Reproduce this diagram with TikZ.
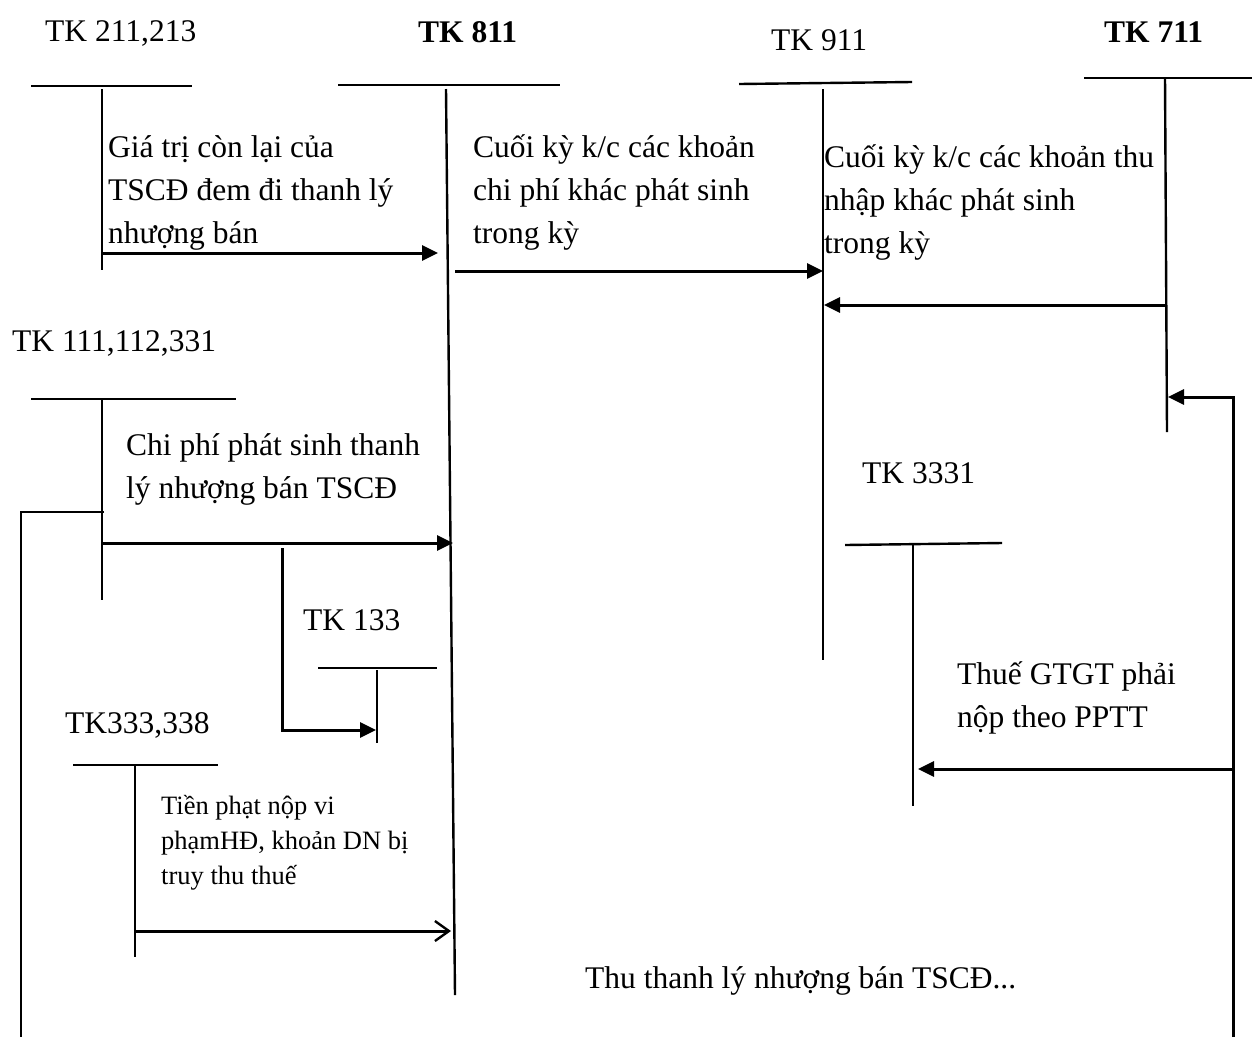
\documentclass[tikz,border=0pt]{standalone}
\usepackage{fontspec}
\setmainfont{Liberation Serif}
\usetikzlibrary{arrows.meta}
% multi-line label whose baseline is that of its first line
\newcommand{\linesof}[1]{\begin{tabular}[t]{@{}l@{}}#1\end{tabular}}
\begin{document}
\begin{tikzpicture}[x=1pt,y=-1pt,
  acct/.style={line width=2.4pt},
  flow/.style={line width=3pt,-{Triangle[length=16pt,width=15pt]}},
  openflow/.style={line width=3pt,-{Straight Barb[length=14pt,width=20pt,line width=2.4pt]}},
  big/.style={inner sep=0pt,anchor=base west,font=\fontsize{31.5}{43}\selectfont},
  bigb/.style={big,font=\fontsize{31.5}{43}\selectfont\bfseries},
  small/.style={inner sep=0pt,anchor=base west,font=\fontsize{26.5}{35}\selectfont}]
\useasboundingbox (0,0) rectangle (1252,1037);

% ---- account titles
\node[big]  (n211)  at (45,41)  {TK 211,213};
\node[bigb] (n811)  at (418,42) {TK 811};
\node[big]  (n911)  at (771,50) {TK 911};
\node[bigb] (n711)  at (1104,42) {TK 711};
\node[big]  (n111)  at (12,351) {TK 111,112,331};
\node[big]  (n133)  at (303,630) {TK 133};
\node[big]  (n333)  at (65,733) {TK333,338};
\node[big]  (n3331) at (862,483) {TK 3331};

% ---- T-account skeletons
\coordinate (h211a) at (31,86);   \coordinate (h211b) at (192,86);
\coordinate (v211a) at (102,89);  \coordinate (v211b) at (102,270);
\coordinate (h811a) at (338,85);  \coordinate (h811b) at (560,85);
\coordinate (v811a) at (446,89);  \coordinate (v811b) at (455,995);
\coordinate (h911a) at (739,84);  \coordinate (h911b) at (912,82);
\coordinate (v911a) at (823,89);  \coordinate (v911b) at (823,660);
\coordinate (h711a) at (1084,78); \coordinate (h711b) at (1252,78);
\coordinate (v711a) at (1165,78); \coordinate (v711b) at (1167,432);
\coordinate (h111a) at (31,399);  \coordinate (h111b) at (236,399);
\coordinate (v111a) at (102,399); \coordinate (v111b) at (102,600);
\coordinate (h133a) at (318,668); \coordinate (h133b) at (437,668);
\coordinate (v133a) at (377,670); \coordinate (v133b) at (377,743);
\coordinate (h333a) at (73,765);  \coordinate (h333b) at (218,765);
\coordinate (v333a) at (135,765); \coordinate (v333b) at (135,957);
\coordinate (h3331a) at (845,545); \coordinate (h3331b) at (1002,543);
\coordinate (v3331a) at (913,544); \coordinate (v3331b) at (913,806);

\foreach \t in {211,811,911,711,111,133,333,3331}{
  \draw[acct] (h\t a) -- (h\t b);
  \draw[acct] (v\t a) -- (v\t b);
}

% ---- flows
\coordinate (a1s) at (102,253);  \coordinate (a1e) at (438,253);
\coordinate (a2s) at (455,271);  \coordinate (a2e) at (823,271);
\coordinate (a3s) at (1165,305); \coordinate (a3e) at (824,305);
\coordinate (a4s) at (102,543);  \coordinate (a4e) at (453,543);
\coordinate (a5s) at (282,548);  \coordinate (a5e) at (376,730);
\coordinate (a6s) at (135,931);  \coordinate (a6e) at (451,931);
\coordinate (a7s) at (1233,769); \coordinate (a7e) at (918,769);
\coordinate (a8s) at (1233,1037); \coordinate (a8e) at (1168,397);
\coordinate (a9s) at (104,512);  \coordinate (a9e) at (21,1037);

\draw[flow] (a1s) -- (a1e);
\draw[flow] (a2s) -- (a2e);
\draw[flow] (a3s) -- (a3e);
\draw[flow] (a4s) -- (a4e);
\draw[flow] (a5s) |- (a5e);
\draw[openflow] (a6s) -- (a6e);
\draw[flow] (a7s) -- (a7e);
\draw[flow] (a8s) |- (a8e);
\draw[acct] (a9s) -| (a9e);

% ---- flow descriptions
\node[big] (d1) at (108,157) {\linesof{Giá trị còn lại của\\TSCĐ đem đi thanh lý\\nhượng bán}};
\node[big] (d2) at (473,157) {\linesof{Cuối kỳ k/c các khoản\\chi phí khác phát sinh\\trong kỳ}};
\node[big] (d3) at (824,167) {\linesof{Cuối kỳ k/c các khoản thu\\nhập khác phát sinh\\trong kỳ}};
\node[big] (d4) at (126,455) {\linesof{Chi phí phát sinh thanh\\lý nhượng bán TSCĐ}};
\node[small] (d5) at (161,814) {\linesof{Tiền phạt nộp vi\\phạmHĐ, khoản DN bị\\truy thu thuế}};
\node[big] (d6) at (957,684) {\linesof{Thuế GTGT phải\\nộp theo PPTT}};
\node[big] (d7) at (585,988) {Thu thanh lý nhượng bán TSCĐ...};
\end{tikzpicture}
\end{document}
